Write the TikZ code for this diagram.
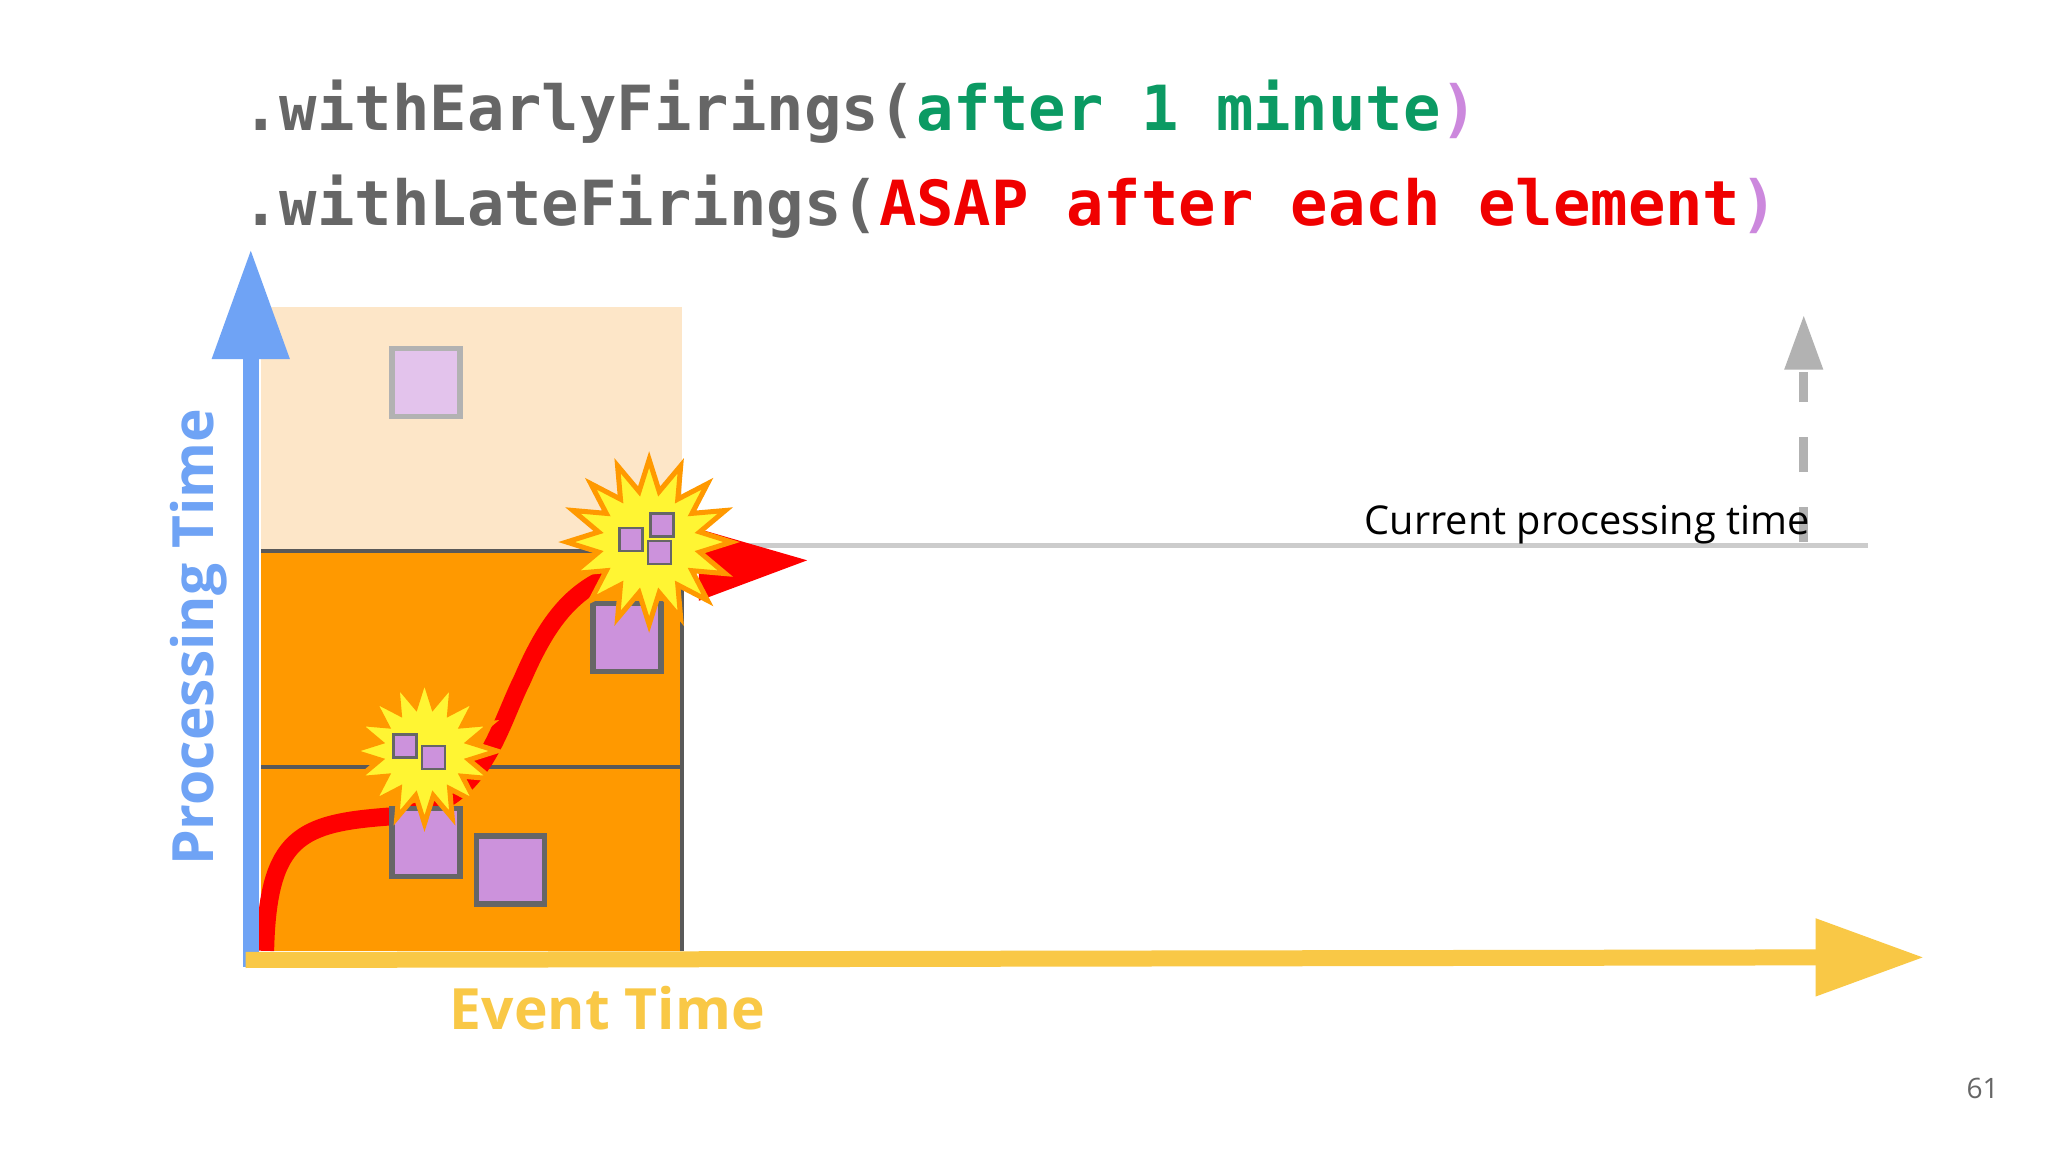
\documentclass[tikz,border=0pt]{standalone}
\usepackage{fontspec}
\setmainfont{Open Sans}
\newfontfamily\codefont{DejaVu Sans Mono}
\usetikzlibrary{shapes.geometric}
\definecolor{codegray}{HTML}{666666}
\definecolor{codegreen}{HTML}{0B9A63}
\definecolor{codered}{HTML}{F00000}
\definecolor{codepurple}{HTML}{CC88DD}
\definecolor{axblue}{HTML}{6FA3F5}
\definecolor{axyellow}{HTML}{F9C846}
\definecolor{orng}{HTML}{FF9900}
\definecolor{peach}{HTML}{FDE6C8}
\definecolor{purp}{HTML}{CC92DC}
\tikzset{x=0.01306cm,y=-0.01306cm,
 sq/.style={draw=black!60,line width=0.55mm,fill=purp,minimum size=0.68cm,inner sep=0},
 ssq/.style={draw=black!60,line width=0.25mm,fill=purp,minimum size=0.23cm,inner sep=0},
 burst/.style={star,star points=16,star point ratio=1.6,fill=yellow!80!white,draw=orng,line width=0.5mm,minimum size=1.45cm,inner sep=0},
 codetxt/.style={font=\codefont\bfseries\fontsize{17.7}{20}\selectfont,anchor=base west,inner sep=0}}
\begin{document}
\begin{tikzpicture}
\useasboundingbox[fill=white] (0,0) rectangle (1568,882);
% code
\node[codetxt] (l1) at (185,100) {\textcolor{codegray}{.withEarlyFirings(}\textcolor{codegreen}{after 1 minute}\textcolor{codepurple}{)}};
\node[codetxt] (l2) at (185,173) {\textcolor{codegray}{.withLateFirings(}\textcolor{codered}{ASAP after each element}\textcolor{codepurple}{)}};
% regions
\fill[peach] (200,235) rectangle (522,420);
\fill[orng] (200,420) rectangle (522,728);
\draw[black!65,line width=0.4mm] (200,422) -- (522,422) (200,587) -- (522,587) (522,422) -- (522,728);
\draw[black!20,line width=0.5mm] (522,418) -- (1430,418);
% pale square
\node[sq,fill=purp!55!white,draw=black!30] (p0) at (326,293) {};
% red curve
\draw[red,line width=1.8mm] (203,728) .. controls (205,640) and (230,630) .. (300,625)
  .. controls (370,618) and (380,560) .. (400,520) .. controls (430,450) and (460,432) .. (540,428);
\fill[red] (535,405) -- (618,429) -- (535,460) -- cycle;
% squares
\node[sq] (s1) at (326,645) {};
\node[sq] (s2) at (391,666) {};
\node[sq] (s3) at (480,488) {};
% bursts
\node[burst] (b1) at (325,575) {};
\node[ssq] at (310,571) {};
\node[ssq] at (332,580) {};
\node[burst,minimum size=1.65cm] (b2) at (497,415) {};
\node[ssq] at (483,413) {};
\node[ssq] at (507,402) {};
\node[ssq] at (505,423) {};
% axes
\draw[axblue,line width=1.6mm] (192,740) -- (192,270);
\fill[axblue] (162,275) -- (192,192) -- (222,275) -- cycle;
\draw[axyellow,line width=1.6mm] (188,735) -- (1395,733);
\fill[axyellow] (1390,703) -- (1472,733) -- (1390,763) -- cycle;
% dashed arrow
\draw[black!30,line width=0.9mm,dash pattern=on 3.5mm off 3.5mm] (1381,415) -- (1381,285);
\fill[black!30] (1366,283) -- (1381,242) -- (1396,283) -- cycle;
\node[anchor=base east,font=\fontsize{11.3}{13}\selectfont,inner sep=0] (cpt) at (1386,409) {Current processing time};
\node[rotate=90,font=\bfseries\fontsize{16.2}{18}\selectfont,text=axblue] (pt) at (152,488) {Processing Time};
\node[font=\bfseries\fontsize{16.2}{18}\selectfont,text=axyellow] (et) at (465,772) {Event Time};
\node[font=\fontsize{8}{9}\selectfont,text=black!60] (pg) at (1518,833) {61};
\end{tikzpicture}
\end{document}
